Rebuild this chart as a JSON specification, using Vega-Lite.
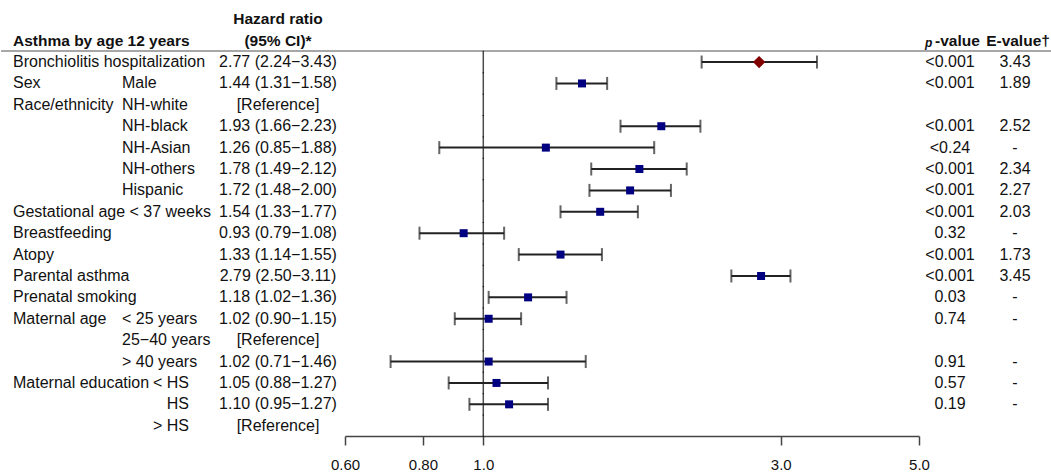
{
  "$schema": "https://vega.github.io/schema/vega-lite/v6.json",
  "width": 1051,
  "height": 436,
  "padding": 0,
  "autosize": {"type": "pad"},
  "background": "white",
  "config": {
    "view": {"stroke": null},
    "font": "Liberation Sans",
    "text": {"font": "Liberation Sans", "fontSize": 16, "color": "#111"}
  },
  "datasets": {
    "rows": [
      {"row": 1, "label": "Bronchiolitis hospitalization", "sub": "", "sub2": "", "hr": "2.77 (2.24−3.43)", "est": 2.77, "lo": 2.24, "hi": 3.43, "p": "<0.001", "e": "3.43", "type": "Exposure"},
      {"row": 2, "label": "Sex", "sub": "Male", "sub2": "", "hr": "1.44 (1.31−1.58)", "est": 1.44, "lo": 1.31, "hi": 1.58, "p": "<0.001", "e": "1.89", "type": "Covariate"},
      {"row": 3, "label": "Race/ethnicity", "sub": "NH-white", "sub2": "", "hr": "[Reference]", "est": null, "lo": null, "hi": null, "p": "", "e": "", "type": "Covariate"},
      {"row": 4, "label": "", "sub": "NH-black", "sub2": "", "hr": "1.93 (1.66−2.23)", "est": 1.93, "lo": 1.66, "hi": 2.23, "p": "<0.001", "e": "2.52", "type": "Covariate"},
      {"row": 5, "label": "", "sub": "NH-Asian", "sub2": "", "hr": "1.26 (0.85−1.88)", "est": 1.26, "lo": 0.85, "hi": 1.88, "p": "<0.24", "e": "-", "type": "Covariate"},
      {"row": 6, "label": "", "sub": "NH-others", "sub2": "", "hr": "1.78 (1.49−2.12)", "est": 1.78, "lo": 1.49, "hi": 2.12, "p": "<0.001", "e": "2.34", "type": "Covariate"},
      {"row": 7, "label": "", "sub": "Hispanic", "sub2": "", "hr": "1.72 (1.48−2.00)", "est": 1.72, "lo": 1.48, "hi": 2.00, "p": "<0.001", "e": "2.27", "type": "Covariate"},
      {"row": 8, "label": "Gestational age < 37 weeks", "sub": "", "sub2": "", "hr": "1.54 (1.33−1.77)", "est": 1.54, "lo": 1.33, "hi": 1.77, "p": "<0.001", "e": "2.03", "type": "Covariate"},
      {"row": 9, "label": "Breastfeeding", "sub": "", "sub2": "", "hr": "0.93 (0.79−1.08)", "est": 0.93, "lo": 0.79, "hi": 1.08, "p": "0.32", "e": "-", "type": "Covariate"},
      {"row": 10, "label": "Atopy", "sub": "", "sub2": "", "hr": "1.33 (1.14−1.55)", "est": 1.33, "lo": 1.14, "hi": 1.55, "p": "<0.001", "e": "1.73", "type": "Covariate"},
      {"row": 11, "label": "Parental asthma", "sub": "", "sub2": "", "hr": "2.79 (2.50−3.11)", "est": 2.79, "lo": 2.50, "hi": 3.11, "p": "<0.001", "e": "3.45", "type": "Covariate"},
      {"row": 12, "label": "Prenatal smoking", "sub": "", "sub2": "", "hr": "1.18 (1.02−1.36)", "est": 1.18, "lo": 1.02, "hi": 1.36, "p": "0.03", "e": "-", "type": "Covariate"},
      {"row": 13, "label": "Maternal age", "sub": "< 25 years", "sub2": "", "hr": "1.02 (0.90−1.15)", "est": 1.02, "lo": 0.90, "hi": 1.15, "p": "0.74", "e": "-", "type": "Covariate"},
      {"row": 14, "label": "", "sub": "25−40 years", "sub2": "", "hr": "[Reference]", "est": null, "lo": null, "hi": null, "p": "", "e": "", "type": "Covariate"},
      {"row": 15, "label": "", "sub": "> 40 years", "sub2": "", "hr": "1.02 (0.71−1.46)", "est": 1.02, "lo": 0.71, "hi": 1.46, "p": "0.91", "e": "-", "type": "Covariate"},
      {"row": 16, "label": "Maternal education", "sub": "", "sub2": "< HS", "hr": "1.05 (0.88−1.27)", "est": 1.05, "lo": 0.88, "hi": 1.27, "p": "0.57", "e": "-", "type": "Covariate"},
      {"row": 17, "label": "", "sub": "", "sub2": "HS", "hr": "1.10 (0.95−1.27)", "est": 1.10, "lo": 0.95, "hi": 1.27, "p": "0.19", "e": "-", "type": "Covariate"},
      {"row": 18, "label": "", "sub": "", "sub2": "> HS", "hr": "[Reference]", "est": null, "lo": null, "hi": null, "p": "", "e": "", "type": "Covariate"}
    ],
    "hdrCenter": [
      {"row": -1, "col": "hr", "txt": "Hazard ratio"},
      {"row": 0, "col": "hr", "txt": "(95% CI)*"},
      {"row": 0, "col": "e", "txt": "E-value†"}
    ],
    "hdrLeft": [
      {"row": 0, "col": "label", "txt": "Asthma by age 12 years"},
      {"row": 0, "col": "pv", "txt": "-value"}
    ],
    "hdrP": [
      {"row": 0, "col": "p", "txt": "p"}
    ]
  },
  "data": {"name": "rows"},
  "encoding": {
    "y": {"field": "row", "type": "quantitative", "scale": {"domain": [-1.9, 18.48], "reverse": true, "nice": false, "zero": false}, "axis": null}
  },
  "layer": [
    {
      "transform": [{"filter": "datum.row === 1"}],
      "mark": {"type": "rule", "color": "#8a8a8a", "strokeWidth": 1.5, "yOffset": -11}
    },
    {
      "transform": [{"fold": ["label", "sub"], "as": ["col", "txt"]}],
      "mark": {"type": "text", "align": "left"},
      "encoding": {
        "x": {"field": "col", "type": "nominal", "scale": {"type": "point", "domain": ["label", "sub"], "range": [12, 121], "padding": 0}, "axis": null},
        "text": {"field": "txt"}
      }
    },
    {
      "transform": [{"fold": ["sub2"], "as": ["col", "txt"]}],
      "mark": {"type": "text", "align": "right"},
      "encoding": {
        "x": {"field": "col", "type": "nominal", "scale": {"type": "point", "domain": ["sub2"], "range": [188, 188], "padding": 0}, "axis": null},
        "text": {"field": "txt"}
      }
    },
    {
      "transform": [{"fold": ["hr"], "as": ["col", "txt"]}],
      "mark": {"type": "text", "align": "center"},
      "encoding": {
        "x": {"field": "col", "type": "nominal", "scale": {"type": "point", "domain": ["hr"], "range": [277, 277], "padding": 0}, "axis": null},
        "text": {"field": "txt"}
      }
    },
    {
      "transform": [{"fold": ["p", "e"], "as": ["col", "txt"]}],
      "mark": {"type": "text", "align": "center"},
      "encoding": {
        "x": {"field": "col", "type": "nominal", "scale": {"type": "point", "domain": ["p", "e"], "range": [949, 1014], "padding": 0}, "axis": null},
        "text": {"field": "txt"}
      }
    },
    {
      "data": {"name": "hdrCenter"},
      "mark": {"type": "text", "align": "center", "fontWeight": "bold", "fontSize": 15.5},
      "encoding": {
        "x": {"field": "col", "type": "nominal", "scale": {"type": "point", "domain": ["hr", "e"], "range": [277, 1017], "padding": 0}, "axis": null},
        "text": {"field": "txt"}
      }
    },
    {
      "data": {"name": "hdrLeft"},
      "mark": {"type": "text", "align": "left", "fontWeight": "bold", "fontSize": 15.5},
      "encoding": {
        "x": {"field": "col", "type": "nominal", "scale": {"type": "point", "domain": ["label", "pv"], "range": [12, 934], "padding": 0}, "axis": null},
        "text": {"field": "txt"}
      }
    },
    {
      "data": {"name": "hdrP"},
      "mark": {"type": "text", "align": "left", "fontWeight": "bold", "fontStyle": "italic", "fontSize": 12, "dy": 2},
      "encoding": {
        "x": {"field": "col", "type": "nominal", "scale": {"type": "point", "domain": ["p"], "range": [924, 924], "padding": 0}, "axis": null},
        "text": {"field": "txt"}
      }
    },
    {
      "layer": [
        {
          "mark": {"type": "tick", "orient": "vertical", "color": "#000", "thickness": 1.5, "size": 22.5},
          "encoding": {
            "x": {"datum": 1, "type": "quantitative", "scale": {"type": "log", "domain": [0.6, 5], "range": [344, 918], "nice": false}, "axis": {"values": [0.6, 0.8, 1, 3, 5], "labelExpr": "datum.value < 1 ? format(datum.value, '.2f') : format(datum.value, '.1f')", "title": null, "grid": false, "orient": "bottom", "domainColor": "#444", "domainWidth": 1.5, "tickColor": "#444", "tickWidth": 1.5, "tickSize": 9, "labelFontSize": 15, "labelColor": "#111", "labelPadding": 12, "labelFont": "Liberation Sans", "labelFlush": false, "labelOverlap": false}}
          }
        },
        {
          "transform": [{"filter": "isValid(datum.est)"}],
          "mark": {"type": "rule", "color": "#222", "strokeWidth": 2},
          "encoding": {
            "x": {"field": "lo", "type": "quantitative"},
            "x2": {"field": "hi"}
          }
        },
        {
          "transform": [{"filter": "isValid(datum.est)"}],
          "mark": {"type": "tick", "orient": "vertical", "color": "#222", "thickness": 2, "size": 13},
          "encoding": {
            "x": {"field": "lo", "type": "quantitative"}
          }
        },
        {
          "transform": [{"filter": "isValid(datum.est)"}],
          "mark": {"type": "tick", "orient": "vertical", "color": "#222", "thickness": 2, "size": 13},
          "encoding": {
            "x": {"field": "hi", "type": "quantitative"}
          }
        },
        {
          "transform": [{"filter": "isValid(datum.est)"}],
          "mark": {"type": "point", "filled": true, "opacity": 1},
          "encoding": {
            "x": {"field": "est", "type": "quantitative"},
            "shape": {"field": "type", "type": "nominal", "scale": {"domain": ["Exposure", "Covariate"], "range": ["diamond", "square"]}, "legend": null},
            "color": {"field": "type", "type": "nominal", "scale": {"domain": ["Exposure", "Covariate"], "range": ["#800000", "#000080"]}, "legend": null},
            "size": {"field": "type", "type": "nominal", "scale": {"domain": ["Exposure", "Covariate"], "range": [150, 64]}, "legend": null}
          }
        }
      ]
    }
  ],
  "resolve": {"scale": {"x": "independent"}}
}
